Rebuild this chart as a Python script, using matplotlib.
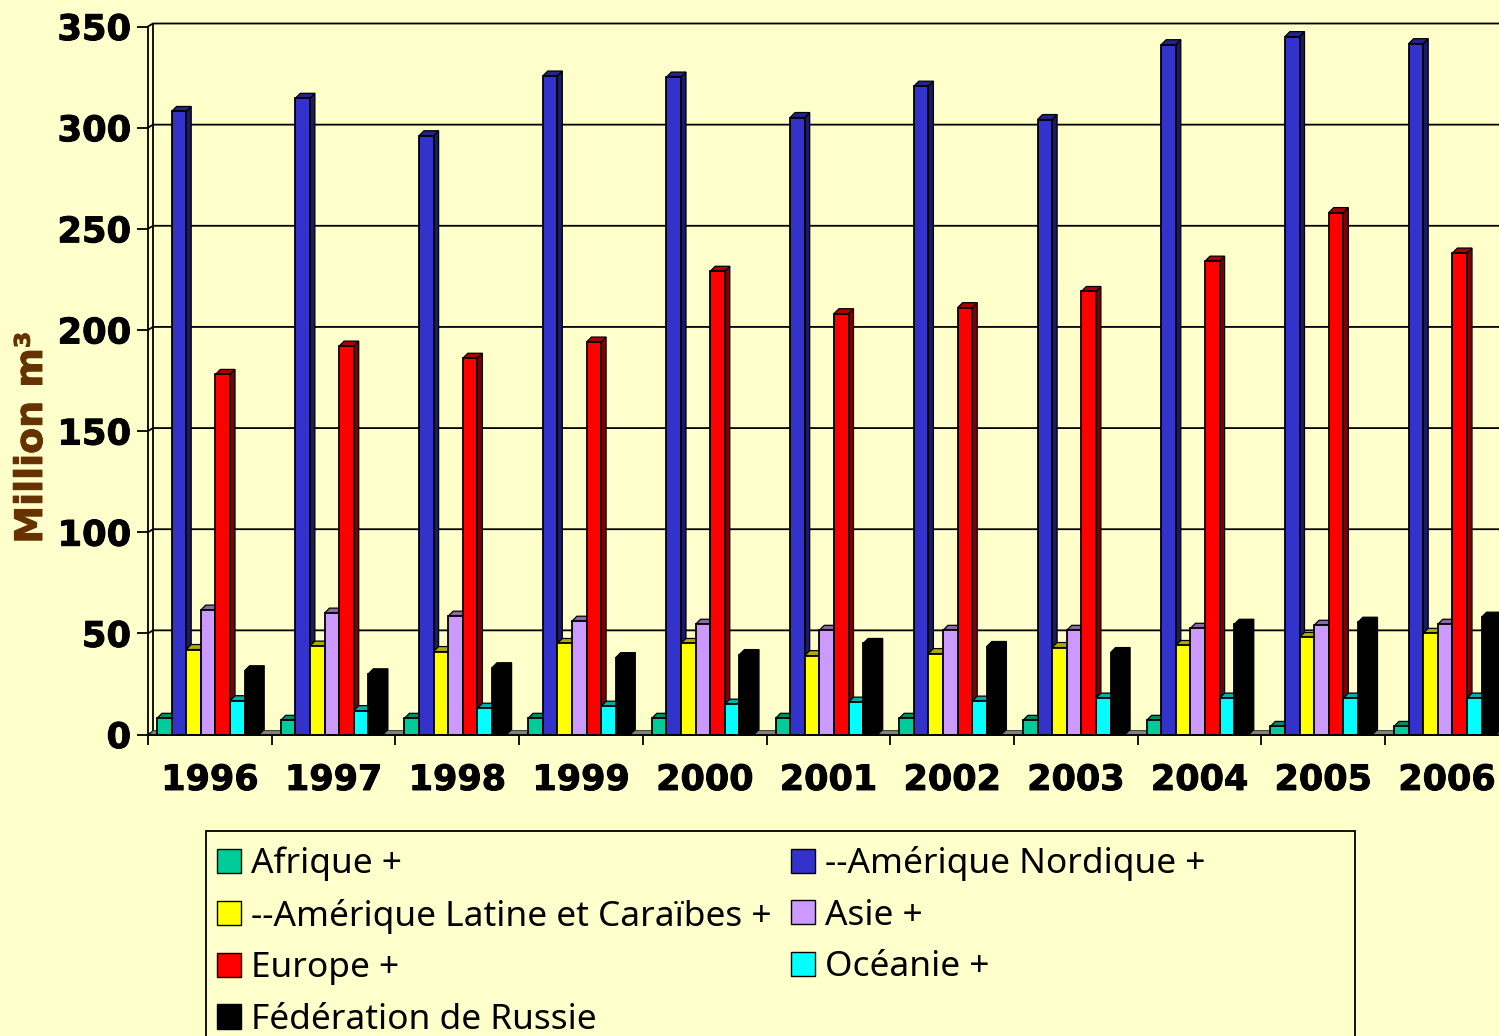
import matplotlib
matplotlib.use("Agg")
import matplotlib.pyplot as plt
import matplotlib.patheffects as pe
from matplotlib.patches import Polygon, Rectangle, Patch
from matplotlib.colors import to_rgb

years = ["1996", "1997", "1998", "1999", "2000", "2001", "2002", "2003", "2004", "2005", "2006"]
afrique = [8, 7, 8, 8, 8, 8, 8, 7, 7, 4, 4]
am_nord = [308, 314.5, 296, 325.5, 325, 305, 320.5, 304, 341, 345, 341.5]
am_latine = [42, 43.7, 41, 45, 45, 39, 40, 43, 44, 48, 50]
asie = [61.5, 60, 58.5, 56, 54.5, 51.5, 51.5, 51.5, 52.5, 54, 54.5]
europe = [178, 192, 186, 194, 229, 208, 211, 219, 234, 258, 238]
oceanie = [16.7, 11.8, 13, 14, 15, 16, 16.5, 18, 18, 18, 18]
russie = [31.5, 30, 33, 38, 39.5, 45, 43.5, 40.5, 54.5, 55.5, 58]

series = [afrique, am_nord, am_latine, asie, europe, oceanie, russie]
names = ["Afrique +", "--Amérique Nordique +", "--Amérique Latine et Caraïbes +", "Asie +",
         "Europe +", "Océanie +", "Fédération de Russie"]
colors = ["#00CC99", "#3333CC", "#FFFF00", "#CC99FF", "#FF0000", "#00FFFF", "#000000"]
yticks = [0, 50, 100, 150, 200, 250, 300, 350]
BG = "#FFFFCC"

W, H = 1499, 1036
fig = plt.figure(figsize=(W / 100, H / 100), dpi=100, facecolor=BG)
left, right, top, bottom = 148, 1499, 26.5, 734.5
ax = fig.add_axes([left / W, 1 - bottom / H, (right - left) / W, (bottom - top) / H], facecolor=BG)
GROUP = 123.7
ax.set_xlim(-0.5, -0.5 + (right - left) / GROUP)
ax.set_ylim(0, 350)
YU = (bottom - top) / 350

# depth offsets expressed in data units
wall_dx, wall_dy = 5 / GROUP, 3 / YU
floor_dy = 4.5 / YU
bar_dx, bar_dy = 5 / GROUP, 5 / YU
lw = 1.3


def shade(c, f):
    return tuple(v * f for v in to_rgb(c))


xmax = ax.get_xlim()[1]
# back wall grid
for t in yticks:
    ax.plot([-0.5, -0.5 + wall_dx, xmax], [t, t + wall_dy, t + wall_dy], color="black", lw=lw,
            zorder=1.5, clip_on=False, solid_joinstyle="miter")
ax.plot([-0.5 + wall_dx] * 2, [wall_dy, 350 + wall_dy], color="black", lw=lw, zorder=1.5, clip_on=False)
# floor
ax.add_patch(Polygon([(-0.5, 0), (xmax, 0), (xmax, floor_dy), (-0.5 + wall_dx, floor_dy)],
                     closed=True, fc="#808080", ec="#404040", lw=0.7, zorder=1.8, clip_on=False))

# bars
bw = 14.6 / GROUP
first = -0.5 + (157 - 148) / GROUP
z = 2
for s, (vals, c) in enumerate(zip(series, colors)):
    z_s = z + s
    xs = [i + first + s * bw for i in range(len(vals))]
    ax.bar(xs, vals, width=bw, align="edge", color=c, edgecolor="black", linewidth=lw, zorder=z_s + 0.5,
           clip_on=False)
    for x, v in zip(xs, vals):
        ax.add_patch(Polygon([(x + bw, 0), (x + bw + bar_dx, bar_dy), (x + bw + bar_dx, v + bar_dy), (x + bw, v)],
                             closed=True, fc=shade(c, 0.5), ec="black", lw=0.9, zorder=z_s, clip_on=False))
        ax.add_patch(Polygon([(x, v), (x + bar_dx, v + bar_dy), (x + bw + bar_dx, v + bar_dy), (x + bw, v)],
                             closed=True, fc=shade(c, 0.68), ec="black", lw=0.9, zorder=z_s, clip_on=False))

# axes
for sp in ["top", "right"]:
    ax.spines[sp].set_visible(False)
ax.spines["left"].set_linewidth(lw)
ax.spines["bottom"].set_linewidth(lw)
ax.spines["bottom"].set_zorder(20)
heavy = [pe.withStroke(linewidth=0.7, foreground="black")]
ax.set_yticks(yticks)
ax.set_yticklabels([str(t) for t in yticks], fontsize=25.4, fontweight="bold", family="DejaVu Sans",
                   path_effects=heavy)
ax.tick_params(axis="y", length=7.9, width=lw, pad=4.3)
ax.set_xticks(range(len(years)))
ax.set_xticklabels(years, fontsize=25.2, fontweight="bold", family="DejaVu Sans", path_effects=heavy)
ax.set_xticks([i - 0.5 for i in range(len(years))], minor=True)
ax.tick_params(axis="x", which="major", length=0, pad=20.5)
ax.tick_params(axis="x", which="minor", length=7.5, width=lw)

fig.text(32 / W, 1 - 438 / H, "Million m³", rotation=90, ha="center", va="center", fontsize=27.3,
         fontweight="bold", color="#663300", family="DejaVu Sans",
         path_effects=[pe.withStroke(linewidth=0.7, foreground="#663300")])

# legend
fig.patches.append(Rectangle((206 / W, -5 / H), (1355 - 206) / W, (H + 5 - 831) / H, transform=fig.transFigure,
                             fc="none", ec="black", lw=lw, figure=fig))
order = [0, 2, 4, 6, 1, 3, 5]
handles = [Patch(fc=colors[i], ec="black", lw=1, label=names[i]) for i in order]
leg = fig.legend(handles=handles, ncol=2, loc="upper left",
                 bbox_to_anchor=(217 / W, 1 - 846 / H), borderaxespad=0, borderpad=0,
                 frameon=False, handlelength=0.68, handleheight=0.68, handletextpad=0.28,
                 labelspacing=0.5, columnspacing=0.55,
                 prop={"family": "Noto Sans", "size": 25.4})

fig.savefig("out.png", dpi=100, facecolor=BG)
